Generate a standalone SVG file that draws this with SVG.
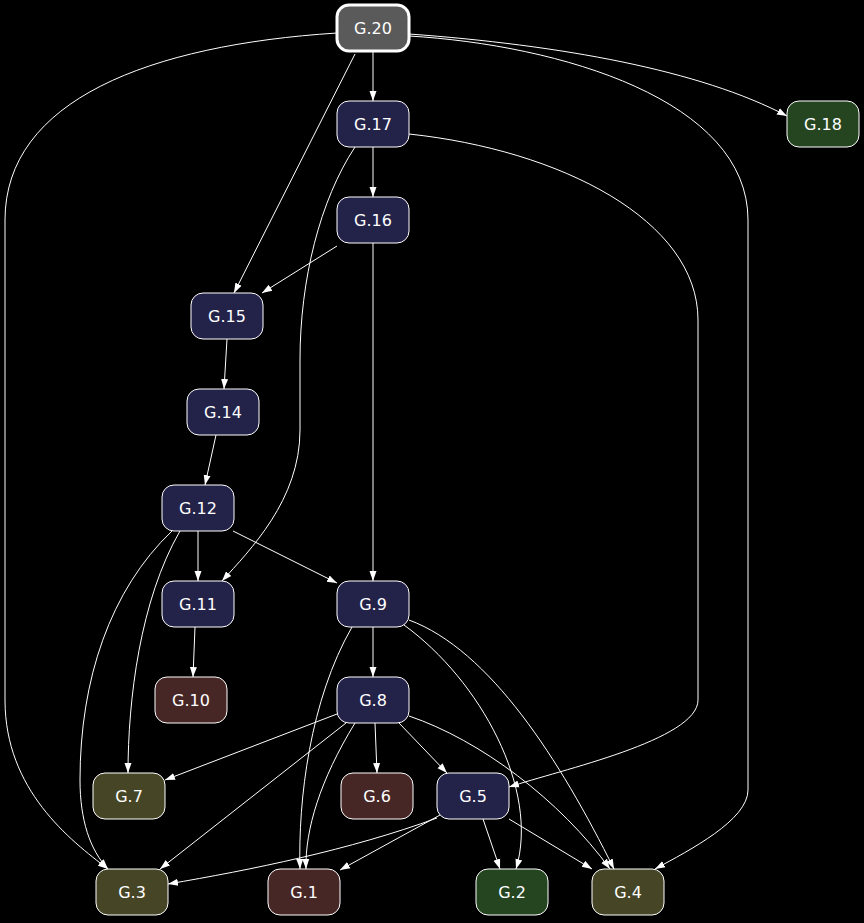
<svg xmlns="http://www.w3.org/2000/svg" width="864" height="923" viewBox="0 0 864 923">
<style>
.n rect{stroke:#fff;stroke-width:1}
.n text{fill:#fff;font-family:"DejaVu Sans",sans-serif;font-size:16px;text-anchor:middle;dominant-baseline:central}
.e path{fill:none;stroke:#fff;stroke-width:1;marker-end:url(#a)}
.nv{fill:#23234a}.gr{fill:#254520}.ol{fill:#464626}.mr{fill:#472626}
</style>
<defs><marker id="a" viewBox="0 0 10 10" refX="10" refY="5" markerWidth="10" markerHeight="10" markerUnits="userSpaceOnUse" orient="auto"><path d="M0,1.5L10,5L0,8.5z" fill="#fff"/></marker></defs>
<rect width="864" height="923" fill="#000"/>
<g class="e">
<path d="M373,51L373,101"/>
<path d="M409,34C560,45 700,70 787,116"/>
<path d="M355,54L234,293"/>
<path d="M337,33C150,45 5,100 5,220L5,700C5,790 70,840 108,869"/>
<path d="M409,36C560,45 748,100 748,220L748,790C748,820 690,850 655,869"/>
<path d="M373,147L373,197"/>
<path d="M355,147C320,200 300,280 300,360L300,430C300,500 250,550 222,581"/>
<path d="M409,134C560,150 698,220 698,320L698,700C698,740 560,770 509,787"/>
<path d="M337,246L262,293"/>
<path d="M373,243L373,581"/>
<path d="M227,339L224,389"/>
<path d="M216,435L205,485"/>
<path d="M198,531L198,581"/>
<path d="M233,531L337,583"/>
<path d="M180,531C140,600 128,700 128,773"/>
<path d="M172,531C110,590 80,680 80,780C80,820 90,850 108,869"/>
<path d="M195,627L193,677"/>
<path d="M373,627L373,677"/>
<path d="M352,627C310,700 298,800 300,869"/>
<path d="M404,625C480,680 540,790 516,869"/>
<path d="M409,620C490,650 560,760 614,869"/>
<path d="M337,714L165,780"/>
<path d="M346,723L160,869"/>
<path d="M355,723C320,780 305,830 306,869"/>
<path d="M375,723L377,773"/>
<path d="M399,723L447,773"/>
<path d="M409,716C480,740 560,800 610,869"/>
<path d="M437,818C350,850 250,870 168,884"/>
<path d="M440,815L340,870"/>
<path d="M483,819L500,869"/>
<path d="M509,819L592,869"/>
</g>
<g id="G20" class="n"><rect x="337" y="5" width="72" height="46" rx="12" fill="#5a5a5a" style="stroke-width:3"/><text x="373" y="28">G.20</text></g>
<g id="G17" class="n"><rect class="nv" x="337" y="101" width="72" height="46" rx="12"/><text x="373" y="124">G.17</text></g>
<g id="G18" class="n"><rect class="gr" x="787" y="101" width="72" height="46" rx="12"/><text x="823" y="124">G.18</text></g>
<g id="G16" class="n"><rect class="nv" x="337" y="197" width="72" height="46" rx="12"/><text x="373" y="220">G.16</text></g>
<g id="G15" class="n"><rect class="nv" x="191" y="293" width="72" height="46" rx="12"/><text x="227" y="316">G.15</text></g>
<g id="G14" class="n"><rect class="nv" x="187" y="389" width="72" height="46" rx="12"/><text x="223" y="412">G.14</text></g>
<g id="G12" class="n"><rect class="nv" x="162" y="485" width="72" height="46" rx="12"/><text x="198" y="508">G.12</text></g>
<g id="G11" class="n"><rect class="nv" x="162" y="581" width="72" height="46" rx="12"/><text x="198" y="604">G.11</text></g>
<g id="G9" class="n"><rect class="nv" x="337" y="581" width="72" height="46" rx="12"/><text x="373" y="604">G.9</text></g>
<g id="G10" class="n"><rect class="mr" x="155" y="677" width="72" height="46" rx="12"/><text x="191" y="700">G.10</text></g>
<g id="G8" class="n"><rect class="nv" x="337" y="677" width="72" height="46" rx="12"/><text x="373" y="700">G.8</text></g>
<g id="G7" class="n"><rect class="ol" x="93" y="773" width="72" height="46" rx="12"/><text x="129" y="796">G.7</text></g>
<g id="G6" class="n"><rect class="mr" x="341" y="773" width="72" height="46" rx="12"/><text x="377" y="796">G.6</text></g>
<g id="G5" class="n"><rect class="nv" x="437" y="773" width="72" height="46" rx="12"/><text x="473" y="796">G.5</text></g>
<g id="G3" class="n"><rect class="ol" x="96" y="869" width="72" height="46" rx="12"/><text x="132" y="892">G.3</text></g>
<g id="G1" class="n"><rect class="mr" x="268" y="869" width="72" height="46" rx="12"/><text x="304" y="892">G.1</text></g>
<g id="G2" class="n"><rect class="gr" x="476" y="869" width="72" height="46" rx="12"/><text x="512" y="892">G.2</text></g>
<g id="G4" class="n"><rect class="ol" x="592" y="869" width="72" height="46" rx="12"/><text x="628" y="892">G.4</text></g>
</svg>
